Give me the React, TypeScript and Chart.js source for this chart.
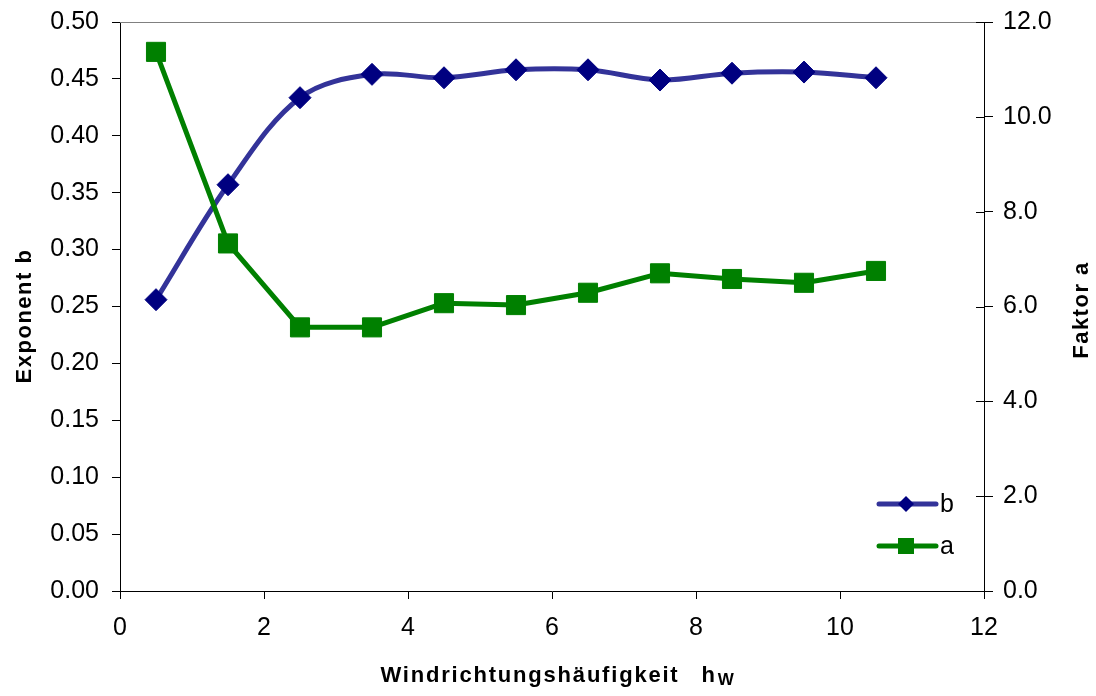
import React, { useEffect, useRef } from "react";
import { Chart, registerables } from "chart.js";

Chart.register(...registerables);

const xValues = [0.5, 1.5, 2.5, 3.5, 4.5, 5.5, 6.5, 7.5, 8.5, 9.5, 10.5];
const bValues = [0.256, 0.357, 0.4335, 0.454, 0.451, 0.458, 0.458, 0.449, 0.455, 0.456, 0.451];
const aValues = [11.37, 7.33, 5.56, 5.56, 6.07, 6.03, 6.29, 6.7, 6.58, 6.5, 6.75];

const xTitleWord = "Windrichtungshäufigkeit";
const xTitleSym = "h";
const xTitleSub = "W";
const yLeftTitle = "Exponent b";
const yRightTitle = "Faktor a";
const legendLabels = ["b", "a"];

const FONT = '"Liberation Sans", Arial, sans-serif';
const BLUE_LINE = "#333399";
const BLUE_MARK = "#000080";
const GREEN = "#008000";

const decorPlugin = {
  id: "decor",
  afterDraw(chart: any) {
    const ctx = chart.ctx as CanvasRenderingContext2D;
    const ca = chart.chartArea;
    ctx.save();
    // top border
    ctx.strokeStyle = "#808080";
    ctx.lineWidth = 1;
    ctx.beginPath();
    ctx.moveTo(ca.left, Math.round(ca.top) + 0.5);
    ctx.lineTo(ca.right, Math.round(ca.top) + 0.5);
    ctx.stroke();
    // inner ticks on right axis
    const y1 = chart.scales.y1;
    ctx.strokeStyle = "#000";
    ctx.beginPath();
    y1.ticks.forEach((t: any) => {
      const py = Math.round(y1.getPixelForValue(t.value)) + 0.5;
      ctx.moveTo(ca.right - 8, py);
      ctx.lineTo(ca.right, py);
    });
    ctx.stroke();

    // x title with subscript
    ctx.fillStyle = "#000";
    ctx.textAlign = "left";
    ctx.textBaseline = "alphabetic";
    (ctx as any).letterSpacing = "1.8px";
    ctx.font = `bold 22px ${FONT}`;
    const wordW = ctx.measureText(xTitleWord).width;
    const hW = ctx.measureText(xTitleSym).width;
    ctx.font = `bold 17px ${FONT}`;
    const subW = ctx.measureText(xTitleSub).width;
    const gap = 22;
    const total = wordW + gap + hW + 1 + subW;
    const cx = (ca.left + ca.right) / 2 + 6;
    let x0 = cx - total / 2;
    ctx.font = `bold 22px ${FONT}`;
    ctx.fillText(xTitleWord, x0, 682);
    x0 += wordW + gap;
    ctx.fillText(xTitleSym, x0, 682);
    x0 += hW + 1;
    ctx.font = `bold 17px ${FONT}`;
    ctx.fillText(xTitleSub, x0, 685);

    // y titles
    (ctx as any).letterSpacing = "1.5px";
    ctx.font = `bold 22px ${FONT}`;
    ctx.textAlign = "center";
    ctx.save();
    ctx.translate(31, 316);
    ctx.rotate(-Math.PI / 2);
    ctx.fillText(yLeftTitle, 0, 0);
    ctx.restore();
    ctx.save();
    ctx.translate(1088, 310);
    ctx.rotate(-Math.PI / 2);
    ctx.fillText(yRightTitle, 0, 0);
    ctx.restore();
    (ctx as any).letterSpacing = "0px";

    // legend
    const items = [
      { label: legendLabels[0], line: BLUE_LINE, mark: BLUE_MARK, style: "diamond", y: 504 },
      { label: legendLabels[1], line: GREEN, mark: GREEN, style: "square", y: 546 },
    ];
    items.forEach((it) => {
      ctx.strokeStyle = it.line;
      ctx.lineWidth = 5;
      ctx.lineCap = "round";
      ctx.beginPath();
      ctx.moveTo(879, it.y);
      ctx.lineTo(936, it.y);
      ctx.stroke();
      ctx.fillStyle = it.mark;
      ctx.beginPath();
      if (it.style === "diamond") {
        const r = 8;
        ctx.moveTo(906, it.y - r);
        ctx.lineTo(906 + r, it.y);
        ctx.lineTo(906, it.y + r);
        ctx.lineTo(906 - r, it.y);
        ctx.closePath();
      } else {
        ctx.rect(906 - 8, it.y - 8, 16, 16);
      }
      ctx.fill();
      ctx.fillStyle = "#000";
      ctx.font = `25px ${FONT}`;
      ctx.textAlign = "left";
      ctx.textBaseline = "middle";
      ctx.fillText(it.label, 940, it.y + 1);
    });
    ctx.restore();
  },
};

export default function App() {
  const ref = useRef<HTMLCanvasElement | null>(null);
  useEffect(() => {
    if (!ref.current) return;
    const tickFont = { family: FONT, size: 25 };
    const chart = new Chart(ref.current, {
      type: "line",
      data: {
        datasets: [
          {
            label: legendLabels[0],
            data: xValues.map((x, i) => ({ x, y: bValues[i] })),
            yAxisID: "y",
            borderColor: BLUE_LINE,
            borderWidth: 5,
            tension: 0.35,
            pointStyle: "rectRot",
            pointRadius: 11,
            pointBackgroundColor: BLUE_MARK,
            pointBorderColor: BLUE_MARK,
            pointBorderWidth: 1,
            borderJoinStyle: "round",
            order: 2,
          },
          {
            label: legendLabels[1],
            data: xValues.map((x, i) => ({ x, y: aValues[i] })),
            yAxisID: "y1",
            borderColor: GREEN,
            borderWidth: 5,
            tension: 0,
            pointStyle: "rect",
            pointRadius: 13.5,
            pointBackgroundColor: GREEN,
            pointBorderColor: GREEN,
            pointBorderWidth: 1,
            borderJoinStyle: "round",
            order: 1,
          },
        ],
      },
      options: {
        animation: false,
        responsive: false,
        devicePixelRatio: 1,
        layout: { padding: { top: 22, left: 0, right: 0, bottom: 0 } },
        plugins: { legend: { display: false }, tooltip: { enabled: false } },
        scales: {
          x: {
            type: "linear",
            position: "bottom",
            min: 0,
            max: 12,
            ticks: { stepSize: 2, font: tickFont, color: "#000", padding: 14, maxRotation: 0 },
            grid: { drawOnChartArea: false, tickLength: 8, color: "#000", lineWidth: 1 },
            border: { color: "#000", width: 1 },
            afterFit: (s: any) => {
              s.height = 105;
              s.paddingLeft = 0;
              s.paddingRight = 0;
            },
          },
          y: {
            type: "linear",
            position: "left",
            min: 0,
            max: 0.5,
            ticks: {
              stepSize: 0.05,
              font: tickFont,
              color: "#000",
              padding: 13,
              callback: (v: any) => Number(v).toFixed(2),
            },
            grid: { drawOnChartArea: false, tickLength: 8, color: "#000", lineWidth: 1 },
            border: { color: "#000", width: 1 },
            afterFit: (s: any) => {
              s.width = 120;
              s.paddingTop = 0;
              s.paddingBottom = 0;
            },
          },
          y1: {
            type: "linear",
            position: "right",
            min: 0,
            max: 12,
            ticks: {
              stepSize: 2,
              font: tickFont,
              color: "#000",
              padding: 10,
              callback: (v: any) => Number(v).toFixed(1),
            },
            grid: { drawOnChartArea: false, tickLength: 9, color: "#000", lineWidth: 1 },
            border: { color: "#000", width: 1 },
            afterFit: (s: any) => {
              s.width = 112;
              s.paddingTop = 0;
              s.paddingBottom = 0;
            },
          },
        },
      },
      plugins: [decorPlugin],
    } as any);
    return () => chart.destroy();
  }, []);
  return (
    <div style={{ position: "absolute", left: 0, top: 0, width: 1096, height: 696, background: "#fff" }}>
      <canvas ref={ref} width={1096} height={696} style={{ width: 1096, height: 696, display: "block" }} />
    </div>
  );
}
